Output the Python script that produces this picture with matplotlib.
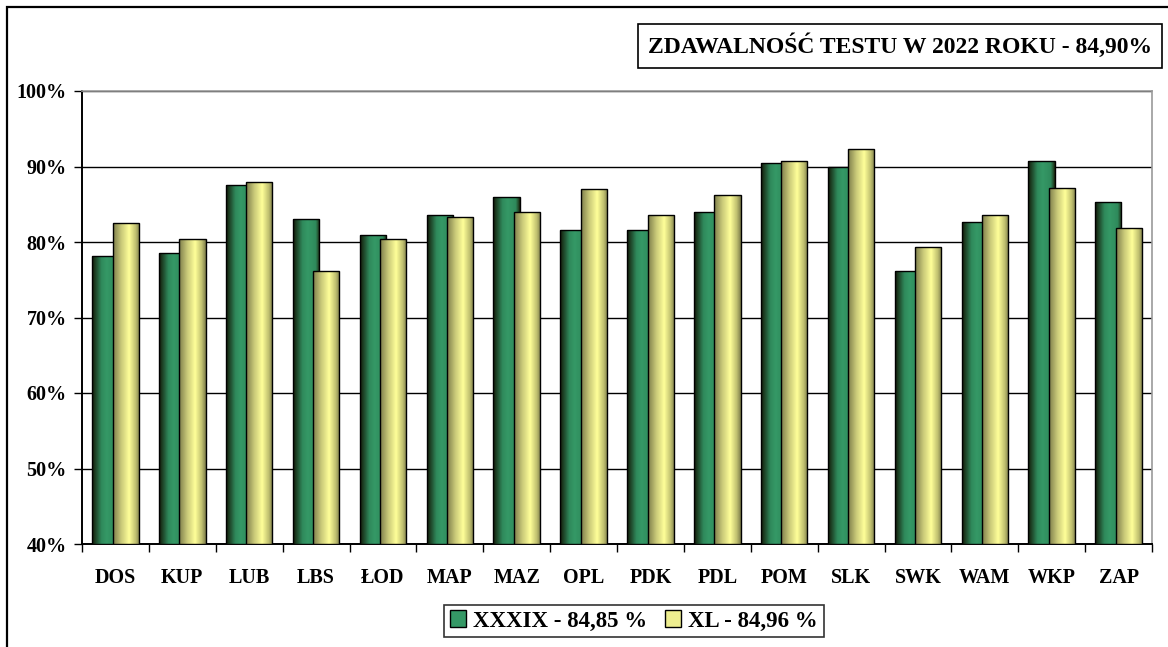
"""
Zdawalnosc testu 2022 - grouped bars per region, two sessions (XXXIX, XL).
"""
import numpy as np
import matplotlib
matplotlib.use("Agg")
import matplotlib.pyplot as plt
from matplotlib.colors import LinearSegmentedColormap
from matplotlib.patches import Rectangle

regions = ["DOS", "KUP", "LUB", "LBS", "ŁOD", "MAP", "MAZ", "OPL",
           "PDK", "PDL", "POM", "SLK", "SWK", "WAM", "WKP", "ZAP"]
xxxix = [78.1, 78.5, 87.5, 83.1, 80.9, 83.6, 85.9, 81.6,
         81.6, 84.0, 90.4, 89.9, 76.2, 82.7, 90.7, 85.3]
xl = [82.5, 80.4, 88.0, 76.2, 80.4, 83.3, 84.0, 87.0,
      83.6, 86.2, 90.7, 92.3, 79.4, 83.6, 87.1, 81.8]
series_names = ["XXXIX - 84,85 %", "XL - 84,96 %"]
title = "ZDAWALNOŚĆ TESTU W 2022 ROKU - 84,90%"
yticks = [40, 50, 60, 70, 80, 90, 100]

FONT = "Liberation Serif"
green_cm = LinearSegmentedColormap.from_list(
    "g", [(0, "#141a08"), (0.35, "#2f8a5c"), (0.55, "#359966"),
          (0.85, "#2f8a5c"), (1, "#1c2a10")])
yellow_cm = LinearSegmentedColormap.from_list(
    "y", [(0, "#7f7f4c"), (0.3, "#c8c878"), (0.6, "#ffff99"),
          (0.85, "#c0c070"), (1, "#7f7f4c")])

fig = plt.figure(figsize=(11.68, 6.47), dpi=100)
ax = fig.add_axes([82 / 1168, 1 - 544 / 647, (1152 - 82) / 1168, (544 - 91) / 647])

# outer chart frame (cut off at right / bottom like the source)
fig.patches.append(Rectangle((7 / 1168, -0.1), 1.2, 1 - 7 / 647 + 0.1,
                             transform=fig.transFigure, fill=False,
                             edgecolor="black", lw=1.6))

x = np.arange(len(regions))
w = 0.39
off = 0.1525
grad = np.linspace(0, 1, 64).reshape(1, -1)

# green first, yellow drawn on top (overlapping like Excel)
for k, (vals, dx, cm) in enumerate([(xxxix, -off, green_cm), (xl, off, yellow_cm)]):
    z = 3 + 2 * k
    bars = ax.bar(x + dx, np.array(vals) - 40, w, bottom=40,
                  facecolor="none", edgecolor="black", lw=1.0, zorder=z + 1)
    for b in bars:
        x0, y0 = b.get_x(), b.get_y()
        im = ax.imshow(grad, cmap=cm, aspect="auto", zorder=z,
                       extent=[x0, x0 + b.get_width(), y0, y0 + b.get_height()])
        im.set_clip_path(b)

ax.set_xlim(-0.5, len(regions) - 0.5)
ax.set_ylim(40, 100)
ax.set_yticks(yticks)
ax.set_yticklabels([f"{v}%" for v in yticks])
ax.yaxis.grid(True, color="black", lw=1.0, zorder=1)
ax.set_axisbelow(True)
ax.set_xticks(np.arange(len(regions) + 1) - 0.5)
ax.set_xticklabels([])
ax.set_xticks(x, minor=True)
ax.set_xticklabels(regions, minor=True)
ax.tick_params(axis="x", which="minor", length=0, pad=17)
ax.tick_params(axis="x", which="major", length=6, width=1.0, direction="out")
ax.tick_params(axis="y", length=6, width=1.0, direction="out", pad=5)
for lab in ax.get_xticklabels(minor=True) + ax.get_yticklabels():
    lab.set_fontfamily(FONT)
    lab.set_fontweight("bold")
    lab.set_fontsize(14.5)
ax.spines["left"].set_linewidth(1.4)
ax.spines["bottom"].set_linewidth(1.4)
for s in ("top", "right"):
    ax.spines[s].set_color("#999999")
    ax.spines[s].set_linewidth(1.2)

fig.text(900 / 1168, 1 - 46 / 647, title, ha="center", va="center",
         fontfamily=FONT, fontweight="bold", fontsize=17,
         bbox=dict(boxstyle="square,pad=0.4", facecolor="white",
                   edgecolor="black", lw=1.2))

handles = [Rectangle((0, 0), 1, 1, facecolor="#359966", edgecolor="black"),
           Rectangle((0, 0), 1, 1, facecolor="#eeee90", edgecolor="black")]
leg = fig.legend(handles, series_names, loc="center", ncol=2,
                 bbox_to_anchor=(634 / 1168, 1 - 621 / 647),
                 frameon=True, fancybox=False, edgecolor="black",
                 handlelength=0.7, handleheight=0.7, handletextpad=0.3,
                 columnspacing=0.8, borderpad=0.25,
                 prop=dict(family=FONT, weight="bold", size=16.5))
leg.get_frame().set_linewidth(1.2)

fig.savefig("out.png", dpi=100)
